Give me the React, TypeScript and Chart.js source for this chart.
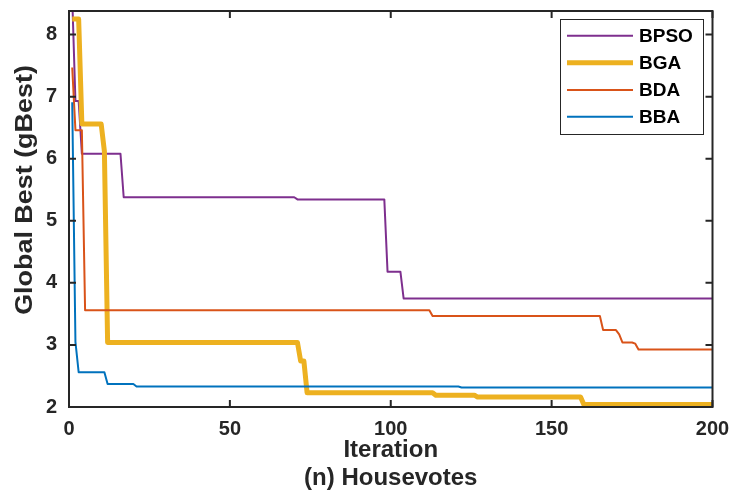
import React, { useEffect, useRef } from 'react';
import { Chart, registerables } from 'chart.js';

Chart.register(...registerables);

// ---- data ----
const seriesNames = ['BPSO', 'BGA', 'BDA', 'BBA'];

const bpsoIter = [1, 2, 3, 4, 16, 17, 70, 71, 98, 99, 103, 104, 200];
const bpsoVal = [8.6, 6.93, 6.93, 6.08, 6.08, 5.38, 5.38, 5.345, 5.345, 4.18, 4.18, 3.75, 3.75];

const bgaIter = [1, 3, 4, 10, 11, 12, 71, 72, 73, 74, 113, 114, 126, 127, 159, 160, 200];
const bgaVal = [8.25, 8.25, 6.56, 6.56, 6.12, 3.04, 3.04, 2.74, 2.74, 2.23, 2.23, 2.19, 2.19, 2.16, 2.16, 2.04, 2.04];

const bdaIter = [1, 2, 4, 5, 112, 113, 165, 166, 170, 171, 172, 175, 176, 177, 200];
const bdaVal = [7.47, 6.46, 6.46, 3.56, 3.56, 3.465, 3.465, 3.24, 3.24, 3.17, 3.04, 3.04, 3.02, 2.925, 2.925];

const bbaIter = [1, 2, 3, 11, 12, 20, 21, 121, 122, 200];
const bbaVal = [6.91, 3.05, 2.56, 2.56, 2.37, 2.37, 2.33, 2.33, 2.315, 2.315];

const xTicks = [0, 50, 100, 150, 200];
const yTicks = [2, 3, 4, 5, 6, 7, 8];

const xTitle = ['Iteration', '(n) Housevotes'];
const yTitle = 'Global Best (gBest)';

// ---- styles ----
const FONT = "'Liberation Sans', Arial, Helvetica, sans-serif";
const AXIS = '#262626';
const colors = ['#7E2F8E', '#EDB120', '#D95319', '#0072BD'];
const widths = [2, 5, 2, 2];

const toPoints = (xs: number[], ys: number[]) => xs.map((x, i) => ({ x, y: ys[i] }));

const framePlugin = {
  id: 'matlabFrame',
  afterDatasetsDraw(chart: any) {
    const { ctx, chartArea: a, scales } = chart;
    ctx.save();
    ctx.strokeStyle = AXIS;
    ctx.lineWidth = 2;
    ctx.strokeRect(a.left, a.top, a.right - a.left, a.bottom - a.top);
    const L = 7;
    ctx.beginPath();
    for (const v of yTicks) {
      const y = scales.y.getPixelForValue(v);
      ctx.moveTo(a.left, y);
      ctx.lineTo(a.left + L, y);
      ctx.moveTo(a.right, y);
      ctx.lineTo(a.right - L, y);
    }
    for (const v of xTicks) {
      const x = scales.x.getPixelForValue(v);
      ctx.moveTo(x, a.bottom);
      ctx.lineTo(x, a.bottom - L);
      ctx.moveTo(x, a.top);
      ctx.lineTo(x, a.top + L);
    }
    ctx.stroke();

    // legend box (top-right, inside the axes)
    const bx = 560, by = 19, bw = 143, bh = 115;
    ctx.fillStyle = '#ffffff';
    ctx.fillRect(bx, by, bw, bh);
    ctx.lineWidth = 1;
    ctx.strokeStyle = AXIS;
    ctx.strokeRect(bx + 0.5, by + 0.5, bw, bh);
    const ds = chart.data.datasets;
    const rowY = [35.7, 62.7, 90, 116.7];
    ctx.font = `bold 19px ${FONT}`;
    ctx.textBaseline = 'middle';
    ctx.textAlign = 'left';
    ds.forEach((d: any, i: number) => {
      const y = rowY[i];
      ctx.strokeStyle = d.borderColor;
      ctx.lineWidth = d.borderWidth;
      ctx.beginPath();
      ctx.moveTo(567, y);
      ctx.lineTo(633, y);
      ctx.stroke();
      ctx.fillStyle = '#000000';
      ctx.fillText(d.label, 639, y + 1);
    });

    // y-axis title (slightly elongated along its baseline, as in the reference)
    ctx.save();
    ctx.translate(26, 190);
    ctx.rotate(-Math.PI / 2);
    ctx.scale(1.17, 1);
    ctx.font = `bold 23px ${FONT}`;
    ctx.fillStyle = AXIS;
    ctx.textAlign = 'center';
    ctx.textBaseline = 'middle';
    ctx.fillText(yTitle, 0, 0);
    ctx.restore();

    ctx.restore();
  },
};

export default function App() {
  const ref = useRef<HTMLCanvasElement | null>(null);

  useEffect(() => {
    if (!ref.current) return;
    const tickFont = { family: FONT, size: 20, weight: 'bold' as const };
    const xTitleFont = { family: FONT, size: 24, weight: 'bold' as const, lineHeight: 1.17 };
    const iters = [bpsoIter, bgaIter, bdaIter, bbaIter];
    const vals = [bpsoVal, bgaVal, bdaVal, bbaVal];
    const chart = new Chart(ref.current, {
      type: 'line',
      data: {
        datasets: seriesNames.map((name, i) => ({
          label: name,
          data: toPoints(iters[i], vals[i]),
          borderColor: colors[i],
          backgroundColor: colors[i],
          borderWidth: widths[i],
          pointRadius: 0,
          tension: 0,
          fill: false,
          order: 4 - i,
          borderJoinStyle: 'round' as const,
        })),
      },
      options: {
        responsive: false,
        animation: false,
        devicePixelRatio: 1,
        events: [],
        layout: { padding: { top: 11, right: 20.5, left: 0, bottom: 0 } },
        plugins: { legend: { display: false }, tooltip: { enabled: false } },
        scales: {
          x: {
            type: 'linear',
            min: 0,
            max: 200,
            grid: { display: false, drawTicks: false },
            border: { display: false },
            ticks: {
              stepSize: 50,
              padding: 10,
              color: AXIS,
              font: tickFont,
              maxRotation: 0,
            },
            title: {
              display: true,
              text: xTitle,
              color: AXIS,
              font: xTitleFont,
              padding: { top: 0, bottom: 1 },
            },
            afterFit(scale: any) {
              scale.height = 86;
              scale.paddingLeft = 0;
              scale.paddingRight = 0;
            },
          },
          y: {
            type: 'linear',
            min: 2,
            max: 8.38,
            grid: { display: false, drawTicks: false },
            border: { display: false },
            ticks: {
              stepSize: 1,
              includeBounds: false,
              padding: 12,
              color: AXIS,
              font: tickFont,
            },
            title: { display: false },
            afterFit(scale: any) {
              scale.width = 69;
              scale.paddingTop = 0;
              scale.paddingBottom = 0;
            },
          },
        },
      },
      plugins: [framePlugin],
    });
    return () => chart.destroy();
  }, []);

  return (
    <div style={{ position: 'fixed', left: 0, top: 0, width: 733, height: 493, background: '#ffffff' }}>
      <canvas ref={ref} width={733} height={493} style={{ display: 'block' }} />
    </div>
  );
}
